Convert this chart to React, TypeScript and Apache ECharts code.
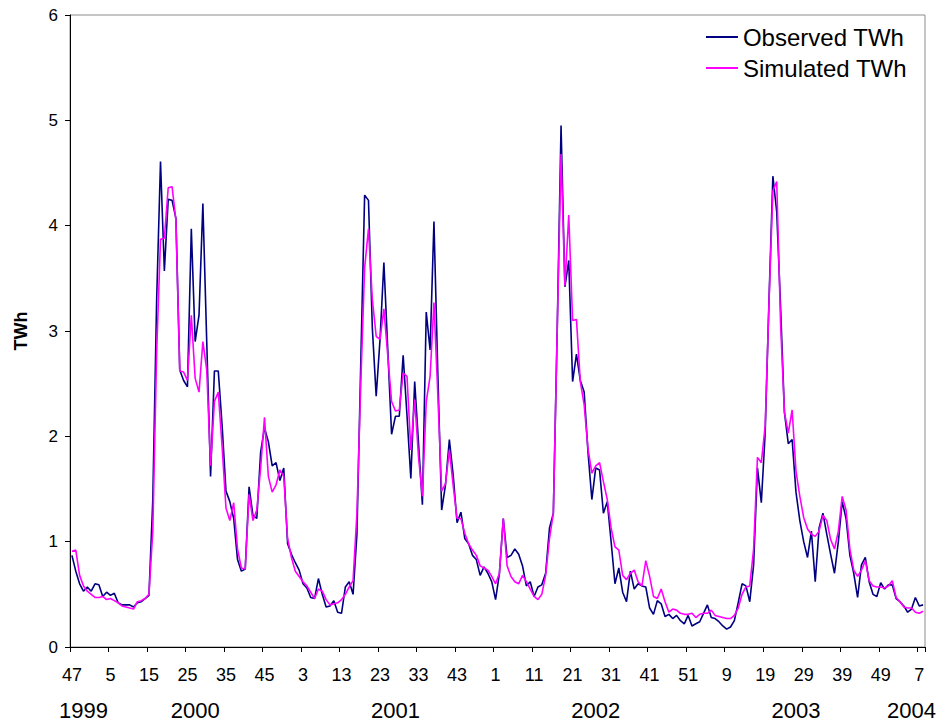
import React, { useEffect, useRef } from "react";
import * as echarts from "echarts";

// Weekly categories: 1999 week 47 .. 2004 week 8 (52 weeks per year)
const startYear = 1999;
const startWeek = 47;
const endYear = 2004;
const endWeek = 8;
const weeksPerYear = 52;

const categories: string[] = [];
for (let y = startYear; y <= endYear; y++) {
  const from = y === startYear ? startWeek : 1;
  const to = y === endYear ? endWeek : weeksPerYear;
  for (let w = from; w <= to; w++) categories.push(`${y}-${w}`);
}

// Category indices where the year labels are centred
const yearLabelIndex = [3, 32, 84, 136, 188, 218];

const yTicks = { min: 0, max: 6, interval: 1 };

const observed = [
  0.87, 0.72, 0.6, 0.53, 0.57, 0.53, 0.6, 0.59, 0.48, 0.52,
  0.49, 0.51, 0.42, 0.4, 0.4, 0.4, 0.38, 0.42, 0.43, 0.46,
  0.49, 1.4, 3.3, 4.61, 3.57, 4.25, 4.24, 4.07, 2.63, 2.53,
  2.47, 3.97, 2.9, 3.15, 4.21, 2.9, 1.62, 2.62, 2.62, 2.1,
  1.48, 1.38, 1.22, 0.83, 0.72, 0.74, 1.52, 1.25, 1.22, 1.85,
  2.08, 1.95, 1.72, 1.75, 1.58, 1.7, 0.98, 0.88, 0.8, 0.73,
  0.6, 0.56, 0.47, 0.46, 0.65, 0.5, 0.38, 0.39, 0.44, 0.33,
  0.32, 0.57, 0.62, 0.5, 1.07, 2.7, 4.29, 4.24, 3.03, 2.38,
  2.92, 3.65, 2.83, 2.02, 2.19, 2.19, 2.77, 2.2, 1.6, 2.52,
  1.93, 1.35, 3.18, 2.82, 4.04, 2.6, 1.3, 1.54, 1.97, 1.63,
  1.18, 1.28, 1.03, 0.98, 0.87, 0.83, 0.68, 0.76, 0.7, 0.62,
  0.45, 0.7, 1.22, 0.85, 0.87, 0.93, 0.88, 0.77, 0.58, 0.62,
  0.48, 0.57, 0.59, 0.7, 1.13, 1.27, 3.0, 4.95, 3.42, 3.67,
  2.52, 2.78, 2.53, 2.42, 1.85, 1.4, 1.7, 1.68, 1.27, 1.38,
  1.0, 0.6, 0.75, 0.52, 0.43, 0.72, 0.55, 0.6, 0.58, 0.57,
  0.37, 0.31, 0.44, 0.41, 0.29, 0.31, 0.27, 0.3, 0.25, 0.22,
  0.3, 0.2, 0.22, 0.24, 0.32, 0.4, 0.28, 0.27, 0.24, 0.2,
  0.17, 0.19, 0.25, 0.42, 0.6, 0.58, 0.43, 0.78, 1.7, 1.37,
  2.03, 3.3, 4.47, 4.13, 3.23, 2.23, 1.93, 1.97, 1.47, 1.2,
  1.0, 0.85, 1.1, 0.62, 1.13, 1.27, 1.07, 0.88, 0.7, 1.0,
  1.38, 1.22, 0.87, 0.7, 0.47, 0.78, 0.85, 0.62, 0.5, 0.48,
  0.61, 0.55, 0.59, 0.59, 0.46, 0.43, 0.39, 0.33, 0.36, 0.47,
  0.39, 0.4,
];

const simulated = [
  0.91, 0.92, 0.68, 0.58, 0.53, 0.5, 0.47, 0.47, 0.48, 0.45,
  0.46, 0.44, 0.42, 0.39, 0.38, 0.37, 0.36, 0.43, 0.44, 0.46,
  0.5, 1.1, 2.8, 3.87, 3.88, 4.36, 4.37, 4.05, 2.62, 2.61,
  2.53, 3.15, 2.55, 2.42, 2.9, 2.63, 1.72, 2.33, 2.42, 1.9,
  1.32, 1.2, 1.37, 0.93, 0.75, 0.74, 1.45, 1.2, 1.3, 1.7,
  2.18, 1.62, 1.47, 1.54, 1.68, 1.62, 1.03, 0.85, 0.72, 0.67,
  0.62, 0.58, 0.52, 0.46, 0.55, 0.53, 0.45, 0.4, 0.41, 0.42,
  0.45, 0.5, 0.57, 0.63, 1.27, 2.5, 3.6, 3.97, 3.3, 2.95,
  2.92, 3.21, 2.77, 2.33, 2.24, 2.25, 2.6, 2.57, 1.87, 2.35,
  1.8, 1.43, 2.33, 2.57, 3.27, 2.4, 1.48, 1.55, 1.87, 1.53,
  1.22, 1.22, 1.08, 0.98, 0.92, 0.87, 0.77, 0.75, 0.73, 0.67,
  0.6, 0.7, 1.22, 0.77, 0.67, 0.62, 0.6, 0.68, 0.62, 0.55,
  0.48, 0.45, 0.5, 0.68, 1.03, 1.27, 3.0, 4.68, 3.43, 4.1,
  3.1, 3.11, 2.52, 2.3, 1.88, 1.65, 1.72, 1.75, 1.57, 1.4,
  1.13, 0.95, 0.92, 0.68, 0.64, 0.7, 0.73, 0.62, 0.58, 0.82,
  0.67, 0.48, 0.46, 0.55, 0.43, 0.33, 0.36, 0.35, 0.32, 0.31,
  0.31, 0.32, 0.28, 0.31, 0.32, 0.32, 0.35, 0.3, 0.29, 0.28,
  0.27, 0.27, 0.3, 0.37, 0.5, 0.57, 0.58, 0.93, 1.8, 1.75,
  2.1, 3.27, 4.33, 4.42, 3.07, 2.23, 2.03, 2.25, 1.67, 1.43,
  1.23, 1.12, 1.07, 1.05, 1.1, 1.25, 1.2, 1.02, 0.93, 1.1,
  1.43, 1.3, 0.93, 0.73, 0.67, 0.73, 0.82, 0.63, 0.58, 0.57,
  0.57, 0.56, 0.58, 0.63, 0.47, 0.43, 0.38, 0.37, 0.37, 0.33,
  0.32, 0.34,
];

const FONT = "'Liberation Sans', Arial, sans-serif";

export default function App() {
  const ref = useRef<HTMLDivElement>(null);

  useEffect(() => {
    document.body.style.margin = "0";
    if (!ref.current) return;
    const chart = echarts.init(ref.current, undefined, { renderer: "svg" });
    chart.setOption({
      animation: false,
      backgroundColor: "#ffffff",
      textStyle: { fontFamily: FONT, color: "#000" },
      grid: {
        left: 70,
        right: 17,
        top: 15,
        bottom: 79,
        show: true,
        borderColor: "#8c8c8c",
        borderWidth: 1,
        backgroundColor: "transparent",
      },
      legend: {
        orient: "vertical",
        right: 35,
        top: 25,
        padding: 0,
        align: "left",
        itemWidth: 32,
        itemHeight: 2,
        itemGap: 7,
        icon: "rect",
        textStyle: { fontFamily: FONT, fontSize: 24, color: "#000" },
        data: ["Observed TWh", "Simulated TWh"],
      },
      xAxis: [
        {
          type: "category",
          data: categories,
          boundaryGap: true,
          axisLine: { lineStyle: { color: "#000", width: 1 } },
          axisTick: { show: true, interval: 9, length: 5, lineStyle: { color: "#000" } },
          axisLabel: {
            interval: 9,
            margin: 19,
            fontSize: 18,
            fontFamily: FONT,
            color: "#000",
            formatter: (v: string) => v.split("-")[1],
          },
          splitLine: { show: false },
        },
        {
          type: "category",
          data: categories,
          position: "bottom",
          offset: 32,
          boundaryGap: true,
          axisLine: { show: false },
          axisTick: { show: false },
          axisLabel: {
            interval: (index: number) => yearLabelIndex.includes(index),
            margin: 20,
            fontSize: 22,
            fontFamily: FONT,
            color: "#000",
            formatter: (v: string) => v.split("-")[0],
          },
          splitLine: { show: false },
        },
      ],
      yAxis: {
        type: "value",
        min: yTicks.min,
        max: yTicks.max,
        interval: yTicks.interval,
        name: "TWh",
        nameLocation: "middle",
        nameGap: 40,
        nameRotate: 90,
        nameTextStyle: { fontFamily: FONT, fontSize: 18, fontWeight: "bold", color: "#000" },
        axisLine: { show: true, lineStyle: { color: "#000", width: 1 } },
        axisTick: { show: true, length: 5, lineStyle: { color: "#000" } },
        axisLabel: { margin: 12, fontSize: 17, fontFamily: FONT, color: "#000" },
        splitLine: { show: false },
      },
      series: [
        {
          name: "Observed TWh",
          type: "line",
          xAxisIndex: 0,
          data: observed,
          symbol: "none",
          lineStyle: { color: "#000080", width: 1.6 },
          itemStyle: { color: "#000080" },
        },
        {
          name: "Simulated TWh",
          type: "line",
          xAxisIndex: 0,
          data: simulated,
          symbol: "none",
          lineStyle: { color: "#ff00ff", width: 1.6 },
          itemStyle: { color: "#ff00ff" },
        },
      ],
    });
    return () => chart.dispose();
  }, []);

  return <div ref={ref} style={{ width: 942, height: 726 }} />;
}
